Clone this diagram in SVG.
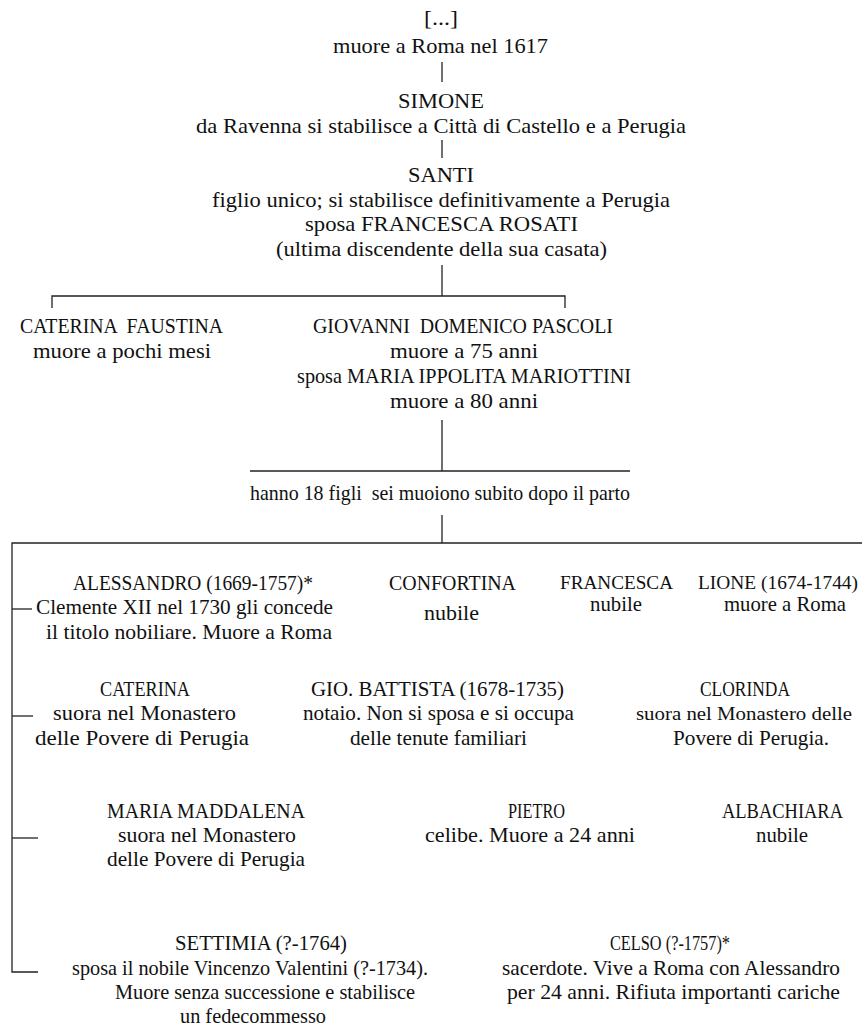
<svg xmlns="http://www.w3.org/2000/svg" width="862" height="1027" viewBox="0 0 862 1027">
<style>
text{font-family:"Liberation Serif","Times New Roman",serif;font-size:21px;fill:#111}
.s{font-size:19px}
.c line,.c path{stroke:#222;stroke-width:1.3;fill:none}
</style>
<rect width="862" height="1027" fill="#fff"/>
<g class="c" id="connectors">
<line x1="442" y1="62" x2="442" y2="82"/>
<line x1="442" y1="140" x2="442" y2="158"/>
<line x1="442" y1="265" x2="442" y2="296"/>
<path d="M52 308V296H565V308"/>
<line x1="442" y1="420" x2="442" y2="471"/>
<line x1="250" y1="471" x2="630" y2="471"/>
<line x1="442" y1="515" x2="442" y2="543"/>
<path d="M862 543H12V972H38"/>
<line x1="12" y1="609" x2="32" y2="609"/>
<line x1="12" y1="716" x2="33" y2="716"/>
<line x1="12" y1="838" x2="38" y2="838"/>
</g>
<g id="n-ancestor">
<text x="424" y="25" textLength="34" lengthAdjust="spacingAndGlyphs">[...]</text>
<text x="333" y="53" textLength="215" lengthAdjust="spacingAndGlyphs">muore a Roma nel 1617</text>
</g>
<g id="n-simone">
<text x="398" y="108" textLength="86" lengthAdjust="spacingAndGlyphs">SIMONE</text>
<text x="196" y="133" textLength="490" lengthAdjust="spacingAndGlyphs">da Ravenna si stabilisce a Città di Castello e a Perugia</text>
</g>
<g id="n-santi">
<text x="408" y="182" textLength="66" lengthAdjust="spacingAndGlyphs">SANTI</text>
<text x="212" y="207" textLength="458" lengthAdjust="spacingAndGlyphs">figlio unico; si stabilisce definitivamente a Perugia</text>
<text x="305" y="231" textLength="273" lengthAdjust="spacingAndGlyphs">sposa FRANCESCA ROSATI</text>
<text x="276" y="256" textLength="331" lengthAdjust="spacingAndGlyphs">(ultima discendente della sua casata)</text>
</g>
<g id="n-caterina-faustina">
<text x="20" y="333" textLength="203" lengthAdjust="spacingAndGlyphs" xml:space="preserve">CATERINA  FAUSTINA</text>
<text x="33" y="358" textLength="178" lengthAdjust="spacingAndGlyphs">muore a pochi mesi</text>
</g>
<g id="n-giovanni">
<text x="313" y="333" textLength="300" lengthAdjust="spacingAndGlyphs" xml:space="preserve">GIOVANNI  DOMENICO PASCOLI</text>
<text x="390" y="358" textLength="148" lengthAdjust="spacingAndGlyphs">muore a 75 anni</text>
<text x="297" y="383" textLength="334" lengthAdjust="spacingAndGlyphs">sposa MARIA IPPOLITA MARIOTTINI</text>
<text x="390" y="408" textLength="148" lengthAdjust="spacingAndGlyphs">muore a 80 anni</text>
</g>
<g id="n-figli">
<text x="250" y="500" textLength="380" lengthAdjust="spacingAndGlyphs" xml:space="preserve">hanno 18 figli  sei muoiono subito dopo il parto</text>
</g>
<g id="n-alessandro">
<text x="73" y="590" textLength="240" lengthAdjust="spacingAndGlyphs">ALESSANDRO (1669-1757)*</text>
<text x="36" y="614" textLength="297" lengthAdjust="spacingAndGlyphs">Clemente XII nel 1730 gli concede</text>
<text x="46" y="639" textLength="286" lengthAdjust="spacingAndGlyphs">il titolo nobiliare. Muore a Roma</text>
</g>
<g id="n-confortina">
<text x="389" y="590" textLength="127" lengthAdjust="spacingAndGlyphs">CONFORTINA</text>
<text x="424" y="620" textLength="55" lengthAdjust="spacingAndGlyphs">nubile</text>
</g>
<g id="n-francesca">
<text class="s" x="560" y="589" textLength="113" lengthAdjust="spacingAndGlyphs">FRANCESCA</text>
<text x="590" y="611" textLength="52" lengthAdjust="spacingAndGlyphs">nubile</text>
</g>
<g id="n-lione">
<text class="s" x="698" y="589" textLength="160" lengthAdjust="spacingAndGlyphs">LIONE (1674-1744)</text>
<text x="724" y="611" textLength="122" lengthAdjust="spacingAndGlyphs">muore a Roma</text>
</g>
<g id="n-caterina">
<text x="100" y="696" textLength="90" lengthAdjust="spacingAndGlyphs">CATERINA</text>
<text x="53" y="720" textLength="183" lengthAdjust="spacingAndGlyphs">suora nel Monastero</text>
<text x="35" y="745" textLength="214" lengthAdjust="spacingAndGlyphs">delle Povere di Perugia</text>
</g>
<g id="n-giobattista">
<text x="311" y="696" textLength="253" lengthAdjust="spacingAndGlyphs">GIO. BATTISTA (1678-1735)</text>
<text x="303" y="720" textLength="271" lengthAdjust="spacingAndGlyphs">notaio. Non si sposa e si occupa</text>
<text x="350" y="745" textLength="177" lengthAdjust="spacingAndGlyphs">delle tenute familiari</text>
</g>
<g id="n-clorinda">
<text x="700" y="696" textLength="90" lengthAdjust="spacingAndGlyphs">CLORINDA</text>
<text class="s" x="636" y="720" textLength="216" lengthAdjust="spacingAndGlyphs">suora nel Monastero delle</text>
<text x="673" y="745" textLength="156" lengthAdjust="spacingAndGlyphs">Povere di Perugia.</text>
</g>
<g id="n-mariamaddalena">
<text x="107" y="818" textLength="198" lengthAdjust="spacingAndGlyphs">MARIA MADDALENA</text>
<text x="118" y="842" textLength="178" lengthAdjust="spacingAndGlyphs">suora nel Monastero</text>
<text x="107" y="866" textLength="198" lengthAdjust="spacingAndGlyphs">delle Povere di Perugia</text>
</g>
<g id="n-pietro">
<text x="508" y="818" textLength="57" lengthAdjust="spacingAndGlyphs">PIETRO</text>
<text x="425" y="842" textLength="210" lengthAdjust="spacingAndGlyphs">celibe. Muore a 24 anni</text>
</g>
<g id="n-albachiara">
<text x="722" y="818" textLength="121" lengthAdjust="spacingAndGlyphs">ALBACHIARA</text>
<text x="756" y="842" textLength="52" lengthAdjust="spacingAndGlyphs">nubile</text>
</g>
<g id="n-settimia">
<text x="175" y="950" textLength="172" lengthAdjust="spacingAndGlyphs">SETTIMIA (?-1764)</text>
<text x="72" y="975" textLength="356" lengthAdjust="spacingAndGlyphs">sposa il nobile Vincenzo Valentini (?-1734).</text>
<text x="115" y="999" textLength="300" lengthAdjust="spacingAndGlyphs">Muore senza successione e stabilisce</text>
<text x="180" y="1023" textLength="146" lengthAdjust="spacingAndGlyphs">un fedecommesso</text>
</g>
<g id="n-celso">
<text x="610" y="950" textLength="120" lengthAdjust="spacingAndGlyphs">CELSO (?-1757)*</text>
<text x="502" y="975" textLength="338" lengthAdjust="spacingAndGlyphs">sacerdote. Vive a Roma con Alessandro</text>
<text x="507" y="999" textLength="333" lengthAdjust="spacingAndGlyphs">per 24 anni. Rifiuta importanti cariche</text>
</g>
</svg>
